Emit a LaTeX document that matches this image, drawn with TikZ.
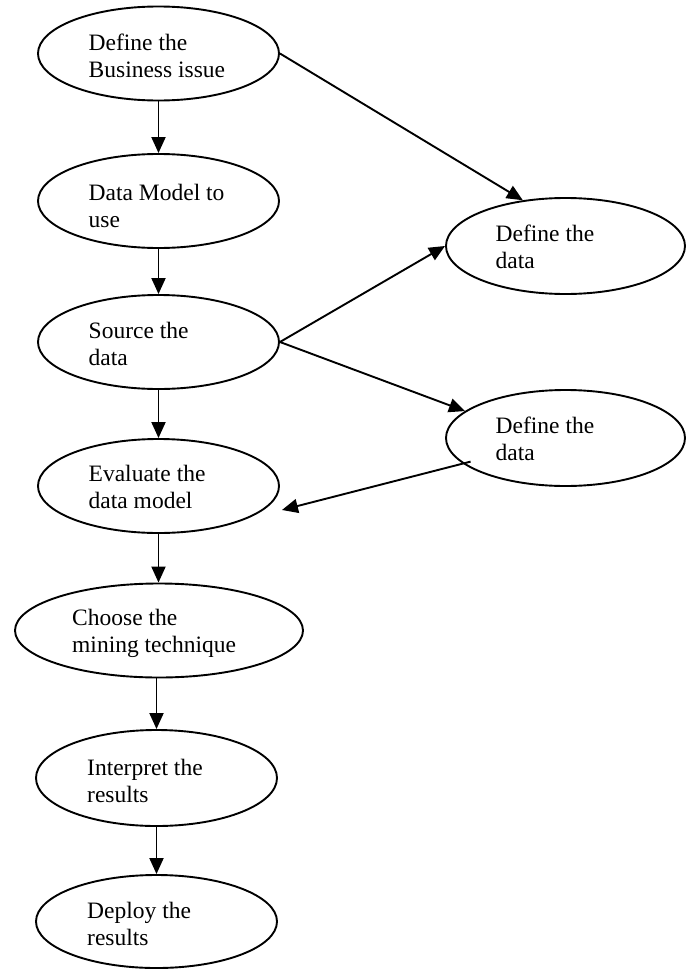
\documentclass[tikz,border=0pt]{standalone}
\usepackage{fontspec}
\setmainfont{Liberation Serif}
\usetikzlibrary{arrows.meta,shapes.geometric}
\begin{document}
\begin{tikzpicture}[x=1pt,y=-1pt,
  stage/.style={draw, ellipse, line width=1.9pt, inner sep=0pt,
    minimum width=241pt, minimum height=94pt},
  stagetext/.style={anchor=base west, align=left, inner sep=0pt,
    font=\fontsize{23.5}{27}\selectfont},
  flow/.style={line width=1.9pt, -{Triangle[length=16pt,width=14pt]}}]
\useasboundingbox (0,0) rectangle (686,969);

% main column of stages
\node[stage] (biz) at (158.5,53.5) {};
\node[stage] (model) at (158.5,201) {};
\node[stage] (source) at (158.5,342) {};
\node[stage] (eval) at (158.5,486) {};
\node[stage, minimum width=288pt] (mining) at (159,630.5) {};
\node[stage, minimum height=96pt] (interp) at (156.5,778) {};
\node[stage, minimum height=93pt] (deploy) at (156.5,921.5) {};

% side stages
\node[stage, minimum width=239pt, minimum height=96pt] (defA) at (565.5,246) {};
\node[stage, minimum width=239pt, minimum height=96pt] (defB) at (565.5,438) {};

% labels (base anchor sits on the last line)
\node[stagetext] (biz-t) at ([shift={(-70,23.5)}]biz.center) {Define the\\Business issue};
\node[stagetext] (model-t) at ([shift={(-70,26)}]model.center) {Data Model to\\use};
\node[stagetext] (source-t) at ([shift={(-70,23)}]source.center) {Source the\\data};
\node[stagetext] (eval-t) at ([shift={(-70,22)}]eval.center) {Evaluate the\\data model};
\node[stagetext] (mining-t) at ([shift={(-87,22)}]mining.center) {Choose the\\mining technique};
\node[stagetext] (interp-t) at ([shift={(-69.5,24)}]interp.center) {Interpret the\\results};
\node[stagetext] (deploy-t) at ([shift={(-69.5,24)}]deploy.center) {Deploy the\\results};
\node[stagetext] (defA-t) at ([shift={(-70,22)}]defA.center) {Define the\\data};
\node[stagetext] (defB-t) at ([shift={(-70,22)}]defB.center) {Define the\\data};

% connectors
\coordinate (evalin) at ([shift={(2,24)}]eval.east);
\draw[flow] (biz) -- (model);
\draw[flow] (model) -- (source);
\draw[flow] (source) -- (eval);
\draw[flow] (eval) -- (eval |- mining.north);
\draw[flow] (mining.south -| interp.north) -- (interp.north);
\draw[flow] (interp) -- (deploy);
\draw[flow] (biz.east) -- (defA.133);
\draw[flow] (source.east) -- (defA.west);
\draw[flow] (source.east) -- (defB.165);
\draw[flow, shorten <=-8pt] (defB.194) -- (evalin);
\end{tikzpicture}
\end{document}
